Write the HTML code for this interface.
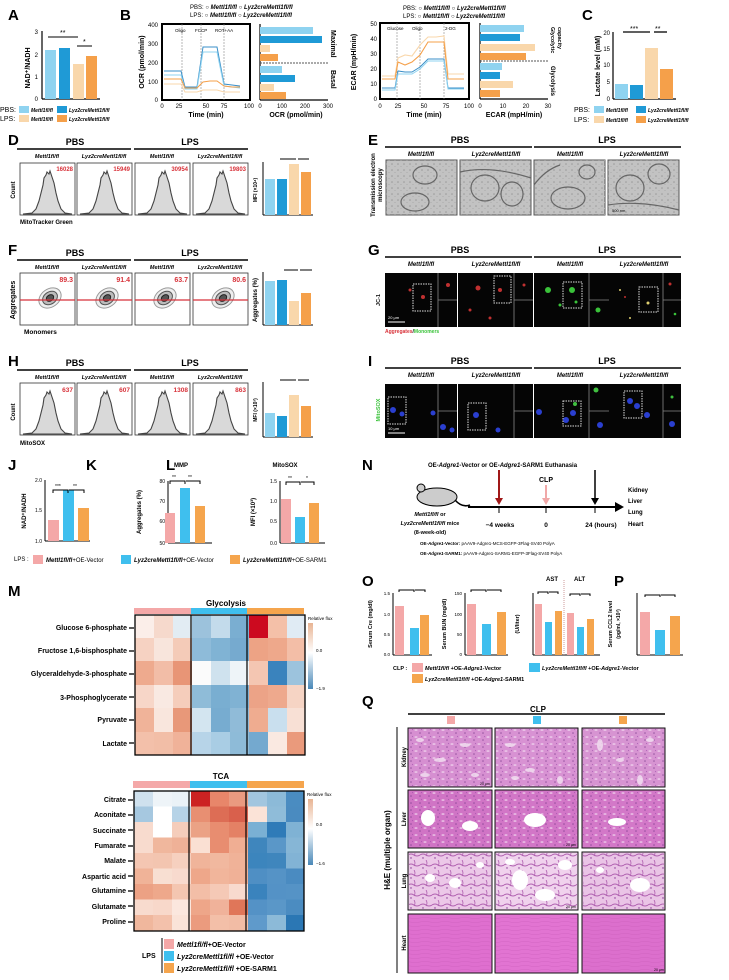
<!DOCTYPE html>
<html><head><meta charset="utf-8"><style>
html,body{margin:0;padding:0;background:#fff}
svg{display:block;font-family:"Liberation Sans",Arial,sans-serif}
.b{font-weight:bold}
.i{font-style:italic;font-weight:bold}
</style></head><body>
<svg width="729" height="980" viewBox="0 0 729 980" xmlns="http://www.w3.org/2000/svg">
<defs>
<pattern id="speck" width="9" height="7" patternUnits="userSpaceOnUse">
<rect width="9" height="7" fill="none"/>
<ellipse cx="2" cy="2" rx="1.6" ry="0.8" fill="#f4def2" opacity="0.8"/>
<circle cx="6" cy="5" r="0.8" fill="#7a3a8a" opacity="0.7"/>
<circle cx="7.5" cy="1.5" r="0.6" fill="#9a4aa8" opacity="0.6"/>
</pattern>
<pattern id="lungp" width="12" height="10" patternUnits="userSpaceOnUse">
<rect width="12" height="10" fill="none"/>
<path d="M0,5 Q3,3 6,5 T12,5" stroke="#b060b0" stroke-width="1" fill="none"/>
<path d="M6,0 Q8,3 6,6" stroke="#b060b0" stroke-width="0.8" fill="none"/>
<circle cx="3" cy="8" r="0.7" fill="#803090"/>
</pattern>
<pattern id="heartp" width="20" height="4" patternUnits="userSpaceOnUse">
<path d="M0,2 Q5,1 10,2 T20,2" stroke="#c85ab8" stroke-width="0.6" fill="none" opacity="0.6"/>
</pattern>
<pattern id="temp" width="6" height="6" patternUnits="userSpaceOnUse">
<circle cx="2" cy="2" r="0.8" fill="#999"/><circle cx="5" cy="4.5" r="0.6" fill="#aaa"/>
</pattern>
</defs>
<!-- Panel letters -->
<g class="b" font-size="15" font-weight="bold">
<text x="8" y="20">A</text><text x="120" y="20">B</text><text x="582" y="20">C</text>
<text x="8" y="145">D</text><text x="368" y="145">E</text>
<text x="8" y="255">F</text><text x="368" y="255">G</text>
<text x="8" y="366">H</text><text x="368" y="366">I</text>
<text x="8" y="470">J</text><text x="86" y="470">K</text><text x="166" y="470">L</text><text x="362" y="470">N</text>
<text x="8" y="596">M</text><text x="362" y="586">O</text><text x="614" y="586">P</text><text x="362" y="706">Q</text>
</g>

<!-- A -->
<g font-size="6">
<line x1="42" y1="31" x2="42" y2="99" stroke="#000" stroke-width="1.2"/><line x1="42" y1="99" x2="100" y2="99" stroke="#000" stroke-width="1.2"/>
<text x="38" y="34" text-anchor="end">3</text><text x="38" y="57" text-anchor="end">2</text><text x="38" y="79" text-anchor="end">1</text><text x="38" y="101" text-anchor="end">0</text>
<text transform="translate(30,68) rotate(-90)" font-size="7" text-anchor="middle" class="b">NAD⁺/NADH</text>
<rect x="45" y="50" width="11" height="49" fill="#8fd3f0"/><rect x="59" y="48" width="11" height="51" fill="#1f9ad6"/>
<rect x="73" y="64" width="11" height="35" fill="#f9d7ab"/><rect x="86" y="56" width="11" height="43" fill="#f5a04a"/>
<line x1="48" y1="37" x2="78" y2="37" stroke="#000"/><text x="60" y="35" font-size="7">**</text>
<line x1="77" y1="46" x2="92" y2="46" stroke="#000"/><text x="83" y="44" font-size="7">*</text>
<text x="0" y="112" font-size="7">PBS:</text><rect x="19" y="106" width="10" height="7" fill="#8fd3f0"/><text x="31" y="112" class="i" font-size="5">Mettl1fl/fl</text>
<rect x="57" y="106" width="10" height="7" fill="#1f9ad6"/><text x="69" y="112" class="i" font-size="5">Lyz2creMettl1fl/fl</text>
<text x="0" y="121" font-size="7">LPS:</text><rect x="19" y="115" width="10" height="7" fill="#f9d7ab"/><text x="31" y="121" class="i" font-size="5">Mettl1fl/fl</text>
<rect x="57" y="115" width="10" height="7" fill="#f5a04a"/><text x="69" y="121" class="i" font-size="5">Lyz2creMettl1fl/fl</text>
</g>

<!-- B OCR -->
<g font-size="6">
<text x="190" y="9" font-size="6">PBS: ○ <tspan class="i">Mettl1fl/fl</tspan> ○ <tspan class="i">Lyz2creMettl1fl/fl</tspan></text>
<text x="190" y="17" font-size="6">LPS: ○ <tspan class="i">Mettl1fl/fl</tspan> ○ <tspan class="i">Lyz2creMettl1fl/fl</tspan></text>
<rect x="162" y="24" width="88" height="76" fill="none" stroke="#000" stroke-width="2"/>
<g font-size="6" text-anchor="end"><text x="158" y="27">400</text><text x="158" y="46">300</text><text x="158" y="65">200</text><text x="158" y="84">100</text><text x="158" y="102">0</text></g>
<g font-size="6" text-anchor="middle"><text x="162" y="108">0</text><text x="179" y="108">25</text><text x="206" y="108">50</text><text x="224" y="108">75</text><text x="249" y="108">100</text></g>
<text x="206" y="117" text-anchor="middle" class="b" font-size="7">Time (min)</text>
<text transform="translate(144,62) rotate(-90)" text-anchor="middle" class="b" font-size="7">OCR (pmol/min)</text>
<g stroke="#888" stroke-dasharray="2,1" stroke-width="0.6"><line x1="182" y1="24" x2="182" y2="100"/><line x1="201" y1="24" x2="201" y2="100"/><line x1="224" y1="24" x2="224" y2="100"/></g>
<text x="175" y="32" font-size="4.5">Oligo</text><text x="195" y="32" font-size="4.5">FCCP</text><text x="215" y="32" font-size="4.5">ROT+AA</text>
<polyline points="164,71 175,71 181,71 185,87 191,87 197,87 203,47 210,47 217,47 224,84 232,85 240,86" fill="none" stroke="#3a8fc8" stroke-width="1"/>
<polyline points="164,75 175,75 181,75 185,89 191,89 197,89 203,52 210,52 217,52 224,86 232,87 240,88" fill="none" stroke="#8fd3f0" stroke-width="1"/>
<polyline points="164,79 175,79 181,79 185,88 191,88 197,88 203,82 210,81 217,81 224,86 232,87 240,87" fill="none" stroke="#f5a04a" stroke-width="1"/>
<polyline points="164,84 175,84 181,84 185,92 191,92 197,92 203,90 210,90 217,90 224,92 232,92 240,92" fill="none" stroke="#f9d7ab" stroke-width="1"/>
<line x1="260" y1="24" x2="260" y2="100" stroke="#000" stroke-width="1.2"/><line x1="260" y1="100" x2="328" y2="100" stroke="#000" stroke-width="1.2"/>
<rect x="260" y="27" width="53" height="7" fill="#8fd3f0"/><rect x="260" y="36" width="62" height="7" fill="#1f9ad6"/>
<rect x="260" y="45" width="10" height="7" fill="#f9d7ab"/><rect x="260" y="54" width="18" height="7" fill="#f5a04a"/>
<line x1="260" y1="63" x2="328" y2="63" stroke="#555" stroke-dasharray="2,1"/>
<rect x="260" y="66" width="22" height="7" fill="#8fd3f0"/><rect x="260" y="75" width="35" height="7" fill="#1f9ad6"/>
<rect x="260" y="84" width="14" height="7" fill="#f9d7ab"/><rect x="260" y="92" width="26" height="7" fill="#f5a04a"/>
<text transform="translate(331,30) rotate(90)" class="b" font-size="7">Maximal</text>
<text transform="translate(331,70) rotate(90)" class="b" font-size="7">Basal</text>
<g text-anchor="middle"><text x="260" y="108">0</text><text x="282" y="108">100</text><text x="305" y="108">200</text><text x="328" y="108">300</text></g>
<text x="296" y="117" text-anchor="middle" class="b" font-size="7">OCR (pmol/min)</text>
</g>

<!-- B ECAR -->
<g font-size="6">
<text x="403" y="10">PBS: ○ <tspan class="i">Mettl1fl/fl</tspan> ○ <tspan class="i">Lyz2creMettl1fl/fl</tspan></text>
<text x="403" y="18">LPS: ○ <tspan class="i">Mettl1fl/fl</tspan> ○ <tspan class="i">Lyz2creMettl1fl/fl</tspan></text>
<rect x="380" y="23" width="89" height="76" fill="none" stroke="#000" stroke-width="2"/>
<g text-anchor="end"><text x="377" y="26">50</text><text x="377" y="41">40</text><text x="377" y="56">30</text><text x="377" y="71">20</text><text x="377" y="86">10</text><text x="377" y="101">0</text></g>
<g text-anchor="middle"><text x="380" y="108">0</text><text x="398" y="108">25</text><text x="424" y="108">50</text><text x="446" y="108">75</text><text x="469" y="108">100</text></g>
<text x="424" y="117" text-anchor="middle" class="b" font-size="7">Time (min)</text>
<text transform="translate(356,62) rotate(-90)" text-anchor="middle" class="b" font-size="7">ECAR (mpH/min)</text>
<g stroke="#888" stroke-dasharray="2,1" stroke-width="0.6"><line x1="397" y1="23" x2="397" y2="99"/><line x1="420" y1="23" x2="420" y2="99"/><line x1="444" y1="23" x2="444" y2="99"/></g>
<text x="387" y="30" font-size="4.5">Glucose</text><text x="412" y="30" font-size="4.5">Oligo</text><text x="445" y="30" font-size="4.5">2-DG</text>
<polyline points="382,76 395,76 398,58 405,55 412,56 420,45 428,37 436,37 444,36 448,74 455,74 464,74" fill="none" stroke="#f9d7ab" stroke-width="1.1"/>
<polyline points="382,79 395,79 398,62 405,65 412,62 420,55 428,42 436,42 444,42 448,79 455,79 464,79" fill="none" stroke="#f5a04a" stroke-width="1.1"/>
<polyline points="382,88 395,88 398,71 405,72 412,72 420,67 428,59 436,59 444,59 448,88 455,88 464,88" fill="none" stroke="#3a8fc8" stroke-width="1"/>
<polyline points="382,90 395,90 398,74 405,74 412,74 420,69 428,61 436,61 444,61 448,89 455,89 464,89" fill="none" stroke="#8fd3f0" stroke-width="1"/>
<line x1="480" y1="23" x2="480" y2="99" stroke="#000" stroke-width="1.2"/><line x1="480" y1="99" x2="548" y2="99" stroke="#000" stroke-width="1.2"/>
<rect x="480" y="25" width="44" height="7" fill="#8fd3f0"/><rect x="480" y="34" width="40" height="7" fill="#1f9ad6"/>
<rect x="480" y="44" width="55" height="7" fill="#f9d7ab"/><rect x="480" y="53" width="46" height="7" fill="#f5a04a"/>
<line x1="480" y1="61" x2="548" y2="61" stroke="#555" stroke-dasharray="2,1"/>
<rect x="480" y="63" width="22" height="7" fill="#8fd3f0"/><rect x="480" y="72" width="20" height="7" fill="#1f9ad6"/>
<rect x="480" y="81" width="33" height="7" fill="#f9d7ab"/><rect x="480" y="90" width="20" height="7" fill="#f5a04a"/>
<text transform="translate(551,27) rotate(90)" class="b" font-size="5.5">Glycolytic</text><text transform="translate(558,27) rotate(90)" class="b" font-size="5.5">capacity</text>
<text transform="translate(551,66) rotate(90)" class="b" font-size="6">Glycolysis</text>
<g text-anchor="middle"><text x="480" y="108">0</text><text x="503" y="108">10</text><text x="526" y="108">20</text><text x="548" y="108">30</text></g>
<text x="514" y="117" text-anchor="middle" class="b" font-size="7">ECAR (mpH/min)</text>
</g>

<!-- C -->
<g font-size="6">
<line x1="613" y1="32" x2="613" y2="99" stroke="#000" stroke-width="1.2"/><line x1="613" y1="99" x2="676" y2="99" stroke="#000" stroke-width="1.2"/>
<g text-anchor="end"><text x="610" y="35">20</text><text x="610" y="51">15</text><text x="610" y="67">10</text><text x="610" y="84">5</text><text x="610" y="101">0</text></g>
<text transform="translate(600,66) rotate(-90)" text-anchor="middle" class="b" font-size="7">Lactate level (mM)</text>
<rect x="615" y="84" width="13" height="15" fill="#8fd3f0"/><rect x="630" y="85" width="13" height="14" fill="#1f9ad6"/>
<rect x="645" y="48" width="13" height="51" fill="#f9d7ab"/><rect x="660" y="69" width="13" height="30" fill="#f5a04a"/>
<line x1="623" y1="32" x2="650" y2="32" stroke="#000" stroke-width="1.3"/><text x="630" y="31" font-size="7">***</text>
<line x1="654" y1="32" x2="667" y2="32" stroke="#000" stroke-width="1.3"/><text x="655" y="31" font-size="7">**</text>
<text x="574" y="112" font-size="7">PBS:</text><rect x="594" y="106" width="10" height="7" fill="#8fd3f0"/><text x="606" y="112" class="i" font-size="5">Mettl1fl/fl</text>
<rect x="636" y="106" width="10" height="7" fill="#1f9ad6"/><text x="648" y="112" class="i" font-size="5">Lyz2creMettl1fl/fl</text>
<text x="574" y="122" font-size="7">LPS:</text><rect x="594" y="116" width="10" height="7" fill="#f9d7ab"/><text x="606" y="122" class="i" font-size="5">Mettl1fl/fl</text>
<rect x="636" y="116" width="10" height="7" fill="#f5a04a"/><text x="648" y="122" class="i" font-size="5">Lyz2creMettl1fl/fl</text>
</g>

<!-- D/F/H flow panels -->
<defs>
<g id="hdrL">
<text x="75" y="0" class="b" font-size="9" text-anchor="middle">PBS</text><text x="190" y="0" class="b" font-size="9" text-anchor="middle">LPS</text>
<line x1="17" y1="4" x2="131" y2="4" stroke="#000" stroke-width="1.5"/><line x1="134" y1="4" x2="248" y2="4" stroke="#000" stroke-width="1.5"/>
<text x="47" y="13" class="i" font-size="5.5" text-anchor="middle">Mettl1fl/fl</text><text x="104" y="13" class="i" font-size="5.5" text-anchor="middle">Lyz2creMettl1fl/fl</text>
<text x="162" y="13" class="i" font-size="5.5" text-anchor="middle">Mettl1fl/fl</text><text x="220" y="13" class="i" font-size="5.5" text-anchor="middle">Lyz2creMettl1fl/fl</text>
</g>
<g id="hdrR">
<text x="460" y="0" class="b" font-size="9" text-anchor="middle">PBS</text><text x="607" y="0" class="b" font-size="9" text-anchor="middle">LPS</text>
<line x1="385" y1="4" x2="532" y2="4" stroke="#000" stroke-width="1.5"/><line x1="534" y1="4" x2="681" y2="4" stroke="#000" stroke-width="1.5"/>
<text x="421" y="13" class="i" font-size="6" text-anchor="middle">Mettl1fl/fl</text><text x="496" y="13" class="i" font-size="6" text-anchor="middle">Lyz2creMettl1fl/fl</text>
<text x="570" y="13" class="i" font-size="6" text-anchor="middle">Mettl1fl/fl</text><text x="644" y="13" class="i" font-size="6" text-anchor="middle">Lyz2creMettl1fl/fl</text>
</g>
<g id="hist"><rect x="0" y="0" width="55" height="52" fill="#fff" stroke="#333" stroke-width="0.8"/>
<path d="M3,51 L12,50 L16,46 L19,38 L21,30 L23,22 L24,15 L26,12 L27,9 L29,11 L30,8 L32,14 L34,20 L36,30 L38,38 L41,46 L45,50 L52,51 Z" fill="#d9d9d9" stroke="#444" stroke-width="1.1"/></g>
<g id="cont"><rect x="0" y="0" width="55" height="52" fill="#fff" stroke="#333" stroke-width="0.8"/>
<ellipse cx="30" cy="25" rx="12" ry="9" fill="#eee" stroke="#999" transform="rotate(-35 30 25)"/>
<ellipse cx="30" cy="25" rx="8" ry="6" fill="#bbb" stroke="#555" transform="rotate(-35 30 25)"/>
<ellipse cx="30" cy="25" rx="4" ry="3" fill="#555" stroke="#222" transform="rotate(-35 30 25)"/>
<line x1="0" y1="27" x2="55" y2="27" stroke="#d8323a" stroke-width="1.2"/></g>
</defs>

<use href="#hdrL" transform="translate(0,145)"/>
<use href="#hist" x="20" y="163"/><use href="#hist" x="77" y="163"/><use href="#hist" x="135" y="163"/><use href="#hist" x="193" y="163"/>
<g fill="#d8323a" font-size="6" class="b" text-anchor="end"><text x="73" y="171">16028</text><text x="130" y="171">15949</text><text x="188" y="171">30954</text><text x="246" y="171">19803</text></g>
<text transform="translate(15,190) rotate(-90)" text-anchor="middle" class="b" font-size="6">Count</text>
<text x="20" y="224" class="b" font-size="6">MitoTracker Green</text>

<use href="#hdrL" transform="translate(0,256)"/>
<use href="#cont" x="20" y="273"/><use href="#cont" x="77" y="273"/><use href="#cont" x="135" y="273"/><use href="#cont" x="193" y="273"/>
<g fill="#d8323a" font-size="7" class="b" text-anchor="end"><text x="73" y="282">89.3</text><text x="130" y="282">91.4</text><text x="188" y="282">63.7</text><text x="246" y="282">80.6</text></g>
<text transform="translate(15,300) rotate(-90)" text-anchor="middle" class="b" font-size="7">Aggregates</text>
<text x="24" y="334" class="b" font-size="6.5">Monomers</text>

<use href="#hdrL" transform="translate(0,366)"/>
<use href="#hist" x="20" y="383"/><use href="#hist" x="77" y="383"/><use href="#hist" x="135" y="383"/><use href="#hist" x="193" y="383"/>
<g fill="#d8323a" font-size="6.5" class="b" text-anchor="end"><text x="73" y="392">637</text><text x="130" y="392">607</text><text x="188" y="392">1308</text><text x="246" y="392">863</text></g>
<text transform="translate(15,412) rotate(-90)" text-anchor="middle" class="b" font-size="6">Count</text>
<text x="20" y="445" class="b" font-size="6">MitoSOX</text>

<!-- small bar charts D F H -->
<g font-size="5">
<line x1="263" y1="162" x2="263" y2="215" stroke="#000"/><line x1="263" y1="215" x2="313" y2="215" stroke="#000"/>
<rect x="265" y="179" width="10" height="36" fill="#8fd3f0"/><rect x="277" y="179" width="10" height="36" fill="#1f9ad6"/><rect x="289" y="164" width="10" height="51" fill="#f9d7ab"/><rect x="301" y="172" width="10" height="43" fill="#f5a04a"/>
<text transform="translate(257,190) rotate(-90)" text-anchor="middle" class="b">MFI (×10⁴)</text>
<line x1="280" y1="159" x2="296" y2="159" stroke="#000"/><line x1="298" y1="159" x2="309" y2="159" stroke="#000"/>
<line x1="263" y1="272" x2="263" y2="325" stroke="#000"/><line x1="263" y1="325" x2="313" y2="325" stroke="#000"/>
<rect x="265" y="281" width="10" height="44" fill="#8fd3f0"/><rect x="277" y="280" width="10" height="45" fill="#1f9ad6"/><rect x="289" y="301" width="10" height="24" fill="#f9d7ab"/><rect x="301" y="293" width="10" height="32" fill="#f5a04a"/>
<text transform="translate(257,300) rotate(-90)" text-anchor="middle" class="b" font-size="6">Aggregates (%)</text>
<line x1="284" y1="270" x2="298" y2="270" stroke="#000"/><line x1="300" y1="270" x2="312" y2="270" stroke="#000"/>
<line x1="263" y1="382" x2="263" y2="437" stroke="#000"/><line x1="263" y1="437" x2="313" y2="437" stroke="#000"/>
<rect x="265" y="413" width="10" height="24" fill="#8fd3f0"/><rect x="277" y="416" width="10" height="21" fill="#1f9ad6"/><rect x="289" y="395" width="10" height="42" fill="#f9d7ab"/><rect x="301" y="406" width="10" height="31" fill="#f5a04a"/>
<text transform="translate(257,410) rotate(-90)" text-anchor="middle" class="b">MFI (×10³)</text>
<line x1="280" y1="380" x2="296" y2="380" stroke="#000"/><line x1="298" y1="380" x2="309" y2="380" stroke="#000"/>
</g>

<!-- E TEM -->
<use href="#hdrR" transform="translate(0,143)"/>
<text transform="translate(375,185) rotate(-90)" text-anchor="middle" class="b" font-size="6">Transmission electron</text>
<text transform="translate(382,185) rotate(-90)" text-anchor="middle" class="b" font-size="6">microscopy</text>
<g stroke="#555" stroke-width="1" fill="#c2c2c2">
<rect x="386" y="160" width="71" height="55"/><rect x="460" y="160" width="71" height="55"/><rect x="534" y="160" width="71" height="55"/><rect x="608" y="160" width="71" height="55"/>
</g>
<g fill="url(#temp)"><rect x="386" y="160" width="71" height="55"/><rect x="460" y="160" width="71" height="55"/><rect x="534" y="160" width="71" height="55"/><rect x="608" y="160" width="71" height="55"/></g>
<g fill="none" stroke="#666" stroke-width="1.2">
<ellipse cx="425" cy="175" rx="12" ry="9"/><ellipse cx="415" cy="202" rx="14" ry="9"/><ellipse cx="485" cy="188" rx="14" ry="13"/><ellipse cx="512" cy="194" rx="11" ry="12"/>
<ellipse cx="568" cy="198" rx="17" ry="11"/><ellipse cx="587" cy="172" rx="8" ry="7"/><ellipse cx="630" cy="188" rx="14" ry="13"/><ellipse cx="659" cy="174" rx="11" ry="10"/>
<path d="M460,172 Q490,165 531,178"/><path d="M534,185 Q545,170 560,165"/><path d="M608,205 Q640,200 679,210"/>
</g>
<text x="612" y="212" font-size="4">500 nm</text>

<!-- G JC-1 -->
<use href="#hdrR" transform="translate(0,253)"/>
<g fill="#050505"><rect x="385" y="273" width="72" height="54"/><rect x="458" y="273" width="75" height="54"/><rect x="534" y="273" width="75" height="54"/><rect x="609" y="273" width="72" height="54"/></g>
<g stroke="#888" stroke-width="0.8"><line x1="438" y1="273" x2="438" y2="327"/><line x1="438" y1="300" x2="457" y2="300"/><line x1="514" y1="273" x2="514" y2="327"/><line x1="514" y1="300" x2="533" y2="300"/><line x1="589" y1="273" x2="589" y2="327"/><line x1="589" y1="300" x2="609" y2="300"/><line x1="663" y1="273" x2="663" y2="327"/><line x1="663" y1="300" x2="681" y2="300"/></g>
<g fill="none" stroke="#ddd" stroke-dasharray="1.5,1"><rect x="413" y="284" width="18" height="27"/><rect x="494" y="276" width="17" height="27"/><rect x="563" y="282" width="19" height="26"/><rect x="639" y="287" width="19" height="25"/></g>
<g fill="#c03030"><circle cx="410" cy="290" r="1.5"/><circle cx="423" cy="297" r="2"/><circle cx="448" cy="285" r="2"/><circle cx="478" cy="288" r="2.5"/><circle cx="500" cy="290" r="2"/><circle cx="470" cy="310" r="1.5"/><circle cx="490" cy="318" r="1.5"/><circle cx="524" cy="285" r="1.5"/><circle cx="670" cy="284" r="1.5"/><circle cx="625" cy="297" r="1"/></g>
<g fill="#3ac23a"><circle cx="548" cy="290" r="3"/><circle cx="572" cy="290" r="3"/><circle cx="560" cy="305" r="1.5"/><circle cx="598" cy="310" r="2.5"/><circle cx="576" cy="302" r="1.5"/><circle cx="675" cy="314" r="1.3"/></g>
<g fill="#e0d070"><circle cx="648" cy="303" r="1.5"/><circle cx="620" cy="290" r="1"/><circle cx="630" cy="318" r="1"/></g>
<text transform="translate(380,300) rotate(-90)" text-anchor="middle" font-size="5.5" class="b">JC-1</text>
<line x1="388" y1="322" x2="405" y2="322" stroke="#fff"/><text x="388" y="319" fill="#fff" font-size="4">20 μm</text>
<text x="385" y="333" font-size="5" class="b"><tspan fill="#d8323a">Aggregates</tspan>/<tspan fill="#3ac23a">Monomers</tspan></text>

<!-- I MitoSOX -->
<use href="#hdrR" transform="translate(0,364)"/>
<g fill="#050505"><rect x="385" y="384" width="72" height="54"/><rect x="458" y="384" width="75" height="54"/><rect x="534" y="384" width="75" height="54"/><rect x="609" y="384" width="72" height="54"/></g>
<g stroke="#888" stroke-width="0.8"><line x1="438" y1="384" x2="438" y2="438"/><line x1="438" y1="411" x2="457" y2="411"/><line x1="514" y1="384" x2="514" y2="438"/><line x1="514" y1="411" x2="533" y2="411"/><line x1="589" y1="384" x2="589" y2="438"/><line x1="589" y1="411" x2="609" y2="411"/><line x1="663" y1="384" x2="663" y2="438"/><line x1="663" y1="411" x2="681" y2="411"/></g>
<g fill="none" stroke="#ddd" stroke-dasharray="1.5,1"><rect x="388" y="397" width="18" height="27"/><rect x="468" y="403" width="18" height="27"/><rect x="563" y="401" width="18" height="25"/><rect x="624" y="391" width="18" height="27"/></g>
<g fill="#2a3fd0"><circle cx="393" cy="410" r="3"/><circle cx="402" cy="414" r="2.5"/><circle cx="433" cy="413" r="2.5"/><circle cx="443" cy="427" r="3"/><circle cx="452" cy="430" r="2.5"/><circle cx="476" cy="415" r="3"/><circle cx="498" cy="430" r="2.5"/><circle cx="539" cy="412" r="3"/><circle cx="566" cy="420" r="3"/><circle cx="573" cy="413" r="3"/><circle cx="600" cy="425" r="3"/><circle cx="630" cy="401" r="3"/><circle cx="637" cy="406" r="3"/><circle cx="647" cy="415" r="3"/><circle cx="672" cy="424" r="3"/></g>
<g fill="#40c040"><circle cx="575" cy="404" r="2"/><circle cx="596" cy="390" r="2.5"/><circle cx="672" cy="397" r="1.5"/></g>
<text transform="translate(380,410) rotate(-90)" text-anchor="middle" font-size="5.5" class="b" fill="#3ac23a">MitoSOX</text>
<line x1="388" y1="433" x2="405" y2="433" stroke="#fff"/><text x="388" y="430" fill="#fff" font-size="4">10 μm</text>

<!-- J K L -->
<g font-size="5">
<line x1="45" y1="480" x2="45" y2="541" stroke="#000"/><line x1="45" y1="541" x2="90" y2="541" stroke="#000"/>
<text x="42" y="482" text-anchor="end">2.0</text><text x="42" y="512" text-anchor="end">1.5</text><text x="42" y="543" text-anchor="end">1.0</text>
<text transform="translate(26,511) rotate(-90)" text-anchor="middle" class="b" font-size="6">NAD⁺/NADH</text>
<rect x="48" y="520" width="11" height="21" fill="#f4a8a8"/><rect x="63" y="490" width="11" height="51" fill="#3fbfee"/><rect x="78" y="508" width="11" height="33" fill="#f5a54d"/>
<path d="M53,493 V490 H68 V493 M69,490 H84 V493" fill="none" stroke="#000"/><text x="55" y="488">***</text><text x="73" y="488">**</text>

<text x="181" y="467" class="b" font-size="6" text-anchor="middle">MMP</text>
<line x1="168" y1="481" x2="168" y2="543" stroke="#000"/><line x1="168" y1="543" x2="212" y2="543" stroke="#000"/>
<text x="165" y="483" text-anchor="end">80</text><text x="165" y="503" text-anchor="end">70</text><text x="165" y="523" text-anchor="end">60</text><text x="165" y="545" text-anchor="end">50</text>
<text transform="translate(141,512) rotate(-90)" text-anchor="middle" class="b" font-size="6">Aggregates (%)</text>
<rect x="165" y="513" width="10" height="30" fill="#f4a8a8"/><rect x="180" y="488" width="10" height="55" fill="#3fbfee"/><rect x="195" y="506" width="10" height="37" fill="#f5a54d"/>
<path d="M170,484 V481 H185 V484 M186,481 H200 V484" fill="none" stroke="#000"/><text x="172" y="479">**</text><text x="188" y="479">**</text>

<text x="285" y="467" class="b" font-size="6" text-anchor="middle">MitoSOX</text>
<line x1="280" y1="481" x2="280" y2="543" stroke="#000"/><line x1="280" y1="543" x2="325" y2="543" stroke="#000"/>
<text x="277" y="483" text-anchor="end">1.5</text><text x="277" y="503" text-anchor="end">1.0</text><text x="277" y="523" text-anchor="end">0.5</text><text x="277" y="545" text-anchor="end">0.0</text>
<text transform="translate(255,512) rotate(-90)" text-anchor="middle" class="b" font-size="6">MFI (×10³)</text>
<rect x="281" y="499" width="10" height="44" fill="#f4a8a8"/><rect x="295" y="517" width="10" height="26" fill="#3fbfee"/><rect x="309" y="503" width="10" height="40" fill="#f5a54d"/>
<path d="M286,485 V482 H300 V485 M301,482 H314 V485" fill="none" stroke="#000"/><text x="288" y="480">**</text><text x="306" y="480">*</text>

<text x="14" y="561" font-size="6">LPS :</text>
<rect x="33" y="555" width="10" height="9" fill="#f4a8a8"/><text x="46" y="562" font-size="6"><tspan class="i">Mettl1fl/fl</tspan>+OE-Vector</text>
<rect x="121" y="555" width="10" height="9" fill="#3fbfee"/><text x="134" y="562" font-size="6"><tspan class="i">Lyz2creMettl1fl/fl</tspan>+OE-Vector</text>
<rect x="230" y="555" width="10" height="9" fill="#f5a54d"/><text x="243" y="562" font-size="6"><tspan class="i">Lyz2creMettl1fl/fl</tspan>+OE-SARM1</text>
</g>

<!-- N -->
<g font-size="6">
<text x="428" y="467" class="b">OE-<tspan font-style="italic">Adgre1</tspan>-Vector or OE-<tspan font-style="italic">Adgre1</tspan>-SARM1  Euthanasia</text>
<ellipse cx="437" cy="497" rx="20" ry="9" fill="#ccc" stroke="#000"/><circle cx="421" cy="488" r="4" fill="#ccc" stroke="#000"/>
<path d="M455,500 Q462,508 470,505" fill="none" stroke="#000" stroke-width="1.5"/>
<line x1="468" y1="507" x2="617" y2="507" stroke="#000" stroke-width="2"/><path d="M615,502 L624,507 L615,512 Z" fill="#000"/>
<line x1="499" y1="470" x2="499" y2="500" stroke="#a01818" stroke-width="2"/><path d="M495,498 L499,505 L503,498 Z" fill="#a01818"/>
<line x1="546" y1="485" x2="546" y2="500" stroke="#f0a8a8" stroke-width="2"/><path d="M542,498 L546,505 L550,498 Z" fill="#f0a8a8"/>
<line x1="595" y1="470" x2="595" y2="500" stroke="#000" stroke-width="1.5"/><path d="M591,498 L595,505 L599,498 Z" fill="#000"/>
<line x1="499" y1="507" x2="499" y2="513" stroke="#000"/><line x1="546" y1="507" x2="546" y2="513" stroke="#000"/><line x1="595" y1="507" x2="595" y2="513" stroke="#000"/>
<text x="546" y="482" class="b" font-size="7" text-anchor="middle">CLP</text>
<g class="b" font-size="6.5" text-anchor="middle"><text x="500" y="527">−4 weeks</text><text x="546" y="527">0</text><text x="601" y="527">24 (hours)</text></g>
<g class="b" font-size="6"><text x="628" y="492">Kidney</text><text x="628" y="503">Liver</text><text x="628" y="514">Lung</text><text x="628" y="526">Heart</text></g>
<g class="b" font-size="5.5" text-anchor="middle"><text x="430" y="516" font-style="italic">Mettl1fl/fl <tspan font-style="normal">or</tspan></text><text x="430" y="525"><tspan font-style="italic">Lyz2creMettl1fl/fl</tspan> mice</text><text x="430" y="534">(8-week-old)</text></g>
<text x="420" y="545" font-size="4.5"><tspan class="b">OE-<tspan font-style="italic">Adgre1</tspan>-Vector:</tspan> pAAV9-Adgre1-MCS-EGFP-3Flag-SV40 PolyA</text>
<text x="420" y="555" font-size="4.5"><tspan class="b">OE-<tspan font-style="italic">Adgre1</tspan>-SARM1:</tspan> pAAV9-Adgre1-SARM1-EGFP-3Flag-SV40 PolyA</text>
</g>

<!-- O P -->
<g font-size="4.5">
<line x1="393" y1="593" x2="393" y2="655" stroke="#000"/><line x1="393" y1="655" x2="432" y2="655" stroke="#000"/>
<text transform="translate(372,624) rotate(-90)" text-anchor="middle" class="b" font-size="5.5">Serum Cre (mg/dl)</text>
<text x="390" y="595" text-anchor="end">1.5</text><text x="390" y="616" text-anchor="end">1.0</text><text x="390" y="636" text-anchor="end">0.5</text><text x="390" y="656" text-anchor="end">0.0</text>
<rect x="395" y="606" width="9" height="49" fill="#f4a8a8"/><rect x="410" y="628" width="9" height="27" fill="#3fbfee"/><rect x="420" y="615" width="9" height="40" fill="#f5a54d"/>
<path d="M399,592 V590 H414 V592 M415,590 H425 V592" fill="none" stroke="#000"/>
<line x1="465" y1="593" x2="465" y2="655" stroke="#000"/><line x1="465" y1="655" x2="508" y2="655" stroke="#000"/>
<text transform="translate(446,624) rotate(-90)" text-anchor="middle" class="b" font-size="5.5">Serum BUN (mg/dl)</text>
<text x="462" y="595" text-anchor="end">150</text><text x="462" y="616" text-anchor="end">100</text><text x="462" y="636" text-anchor="end">50</text><text x="462" y="656" text-anchor="end">0</text>
<rect x="467" y="604" width="9" height="51" fill="#f4a8a8"/><rect x="482" y="624" width="9" height="31" fill="#3fbfee"/><rect x="497" y="612" width="9" height="43" fill="#f5a54d"/>
<path d="M471,592 V590 H486 V592 M487,590 H501 V592" fill="none" stroke="#000"/>
<text x="546" y="581" class="b" font-size="6">AST</text><text x="574" y="581" class="b" font-size="6">ALT</text>
<line x1="533" y1="593" x2="533" y2="655" stroke="#000"/><line x1="533" y1="655" x2="600" y2="655" stroke="#000"/>
<text transform="translate(519,624) rotate(-90)" text-anchor="middle" class="b" font-size="5.5">(U/liter)</text>
<line x1="564" y1="580" x2="564" y2="655" stroke="#c99" stroke-dasharray="1,1"/>
<rect x="535" y="604" width="7" height="51" fill="#f4a8a8"/><rect x="545" y="622" width="7" height="33" fill="#3fbfee"/><rect x="555" y="611" width="7" height="44" fill="#f5a54d"/>
<rect x="567" y="613" width="7" height="42" fill="#f4a8a8"/><rect x="577" y="627" width="7" height="28" fill="#3fbfee"/><rect x="587" y="619" width="7" height="36" fill="#f5a54d"/>
<path d="M538,594 V592 H548 V594 M549,592 H558 V594 M570,596 V594 H580 V596 M581,594 H590 V596" fill="none" stroke="#000"/>
<line x1="637" y1="593" x2="637" y2="655" stroke="#000"/><line x1="637" y1="655" x2="683" y2="655" stroke="#000"/>
<text transform="translate(612,624) rotate(-90)" text-anchor="middle" class="b" font-size="5.5">Serum CCL2 level</text>
<text transform="translate(620,624) rotate(-90)" text-anchor="middle" class="b" font-size="5">(pg/ml, ×10²)</text>
<rect x="640" y="612" width="10" height="43" fill="#f4a8a8"/><rect x="655" y="630" width="10" height="25" fill="#3fbfee"/><rect x="670" y="616" width="10" height="39" fill="#f5a54d"/>
<path d="M645,597 V595 H660 V597 M661,595 H675 V597" fill="none" stroke="#000"/>
<text x="393" y="670" font-size="5.5" class="b">CLP :</text>
<rect x="412" y="663" width="11" height="9" fill="#f4a8a8"/><text x="425" y="670" font-size="5.5" class="b"><tspan font-style="italic">Mettl1fl/fl</tspan> +OE-<tspan font-style="italic">Adgre1</tspan>-Vector</text>
<rect x="529" y="663" width="11" height="9" fill="#3fbfee"/><text x="542" y="670" font-size="5.5" class="b"><tspan font-style="italic">Lyz2creMettl1fl/fl</tspan> +OE-<tspan font-style="italic">Adgre1</tspan>-Vector</text>
<rect x="412" y="674" width="11" height="9" fill="#f5a54d"/><text x="425" y="681" font-size="5.5" class="b"><tspan font-style="italic">Lyz2creMettl1fl/fl</tspan> +OE-<tspan font-style="italic">Adgre1</tspan>-SARM1</text>
</g>

<!-- Q -->
<text x="538" y="712" class="b" font-size="8" text-anchor="middle">CLP</text>
<line x1="408" y1="714" x2="665" y2="714" stroke="#000" stroke-width="1.5"/>
<rect x="447" y="716" width="8" height="8" fill="#f4a8a8"/><rect x="533" y="716" width="8" height="8" fill="#3fbfee"/><rect x="619" y="716" width="8" height="8" fill="#f5a54d"/>
<line x1="397" y1="727" x2="397" y2="973" stroke="#000"/>
<text transform="translate(390,850) rotate(-90)" text-anchor="middle" font-size="8" class="b">H&amp;E (multiple organ)</text>
<g font-size="6" class="b"><text transform="translate(406,757) rotate(-90)" text-anchor="middle">Kidney</text><text transform="translate(406,819) rotate(-90)" text-anchor="middle">Liver</text><text transform="translate(406,881) rotate(-90)" text-anchor="middle">Lung</text><text transform="translate(406,943) rotate(-90)" text-anchor="middle">Heart</text></g>
<g stroke="#111" stroke-width="1">
<rect x="408" y="728" width="84" height="59" fill="#d68fd1"/><rect x="495" y="728" width="83" height="59" fill="#d892d3"/><rect x="582" y="728" width="83" height="59" fill="#d794d2"/>
<rect x="408" y="790" width="84" height="58" fill="#d074c5"/><rect x="495" y="790" width="83" height="58" fill="#d276c7"/><rect x="582" y="790" width="83" height="58" fill="#d378c8"/>
<rect x="408" y="852" width="84" height="58" fill="#ecc8e8"/><rect x="495" y="852" width="83" height="58" fill="#f0d2ed"/><rect x="582" y="852" width="83" height="58" fill="#eac4e6"/>
<rect x="408" y="914" width="84" height="59" fill="#df6fcf"/><rect x="495" y="914" width="83" height="59" fill="#e274d2"/><rect x="582" y="914" width="83" height="59" fill="#dc6fcd"/>
</g>
<g fill="url(#speck)">
<rect x="409" y="729" width="82" height="57"/><rect x="496" y="729" width="81" height="57"/><rect x="583" y="729" width="81" height="57"/>
<rect x="409" y="791" width="82" height="56"/><rect x="496" y="791" width="81" height="56"/><rect x="583" y="791" width="81" height="56"/>
</g>
<g fill="url(#lungp)"><rect x="409" y="853" width="82" height="56"/><rect x="496" y="853" width="81" height="56"/><rect x="583" y="853" width="81" height="56"/></g>
<g fill="url(#heartp)"><rect x="409" y="915" width="82" height="57"/><rect x="496" y="915" width="81" height="57"/><rect x="583" y="915" width="81" height="57"/></g>
<g fill="#f3e3f2" opacity="0.8">
<ellipse cx="420" cy="740" rx="4" ry="2"/><ellipse cx="440" cy="760" rx="6" ry="2"/><ellipse cx="465" cy="745" rx="5" ry="2"/><ellipse cx="475" cy="775" rx="4" ry="2"/><ellipse cx="425" cy="775" rx="5" ry="2"/>
<ellipse cx="510" cy="745" rx="5" ry="2"/><ellipse cx="530" cy="770" rx="5" ry="2"/><ellipse cx="560" cy="780" rx="3" ry="4"/><ellipse cx="515" cy="778" rx="4" ry="2"/>
<ellipse cx="600" cy="745" rx="3" ry="6"/><ellipse cx="620" cy="760" rx="4" ry="2"/><ellipse cx="640" cy="780" rx="3" ry="5"/><ellipse cx="650" cy="740" rx="4" ry="2"/>
</g>
<g fill="#fff"><ellipse cx="428" cy="818" rx="7" ry="8"/><ellipse cx="470" cy="826" rx="8" ry="5"/><ellipse cx="535" cy="820" rx="11" ry="7"/><ellipse cx="617" cy="822" rx="9" ry="4"/>
<ellipse cx="430" cy="878" rx="5" ry="4"/><ellipse cx="455" cy="883" rx="6" ry="5"/><ellipse cx="480" cy="865" rx="4" ry="3"/><ellipse cx="520" cy="880" rx="8" ry="10"/><ellipse cx="545" cy="895" rx="10" ry="6"/><ellipse cx="565" cy="865" rx="7" ry="5"/><ellipse cx="510" cy="862" rx="5" ry="3"/><ellipse cx="640" cy="885" rx="10" ry="7"/><ellipse cx="600" cy="870" rx="4" ry="3"/></g>
<g font-size="3.5"><text x="480" y="785">20 μm</text><text x="566" y="846">20 μm</text><text x="566" y="908">20 μm</text><text x="654" y="971">20 μm</text></g>

<!-- M heatmaps -->
<defs><linearGradient id="cb" x1="0" y1="0" x2="0" y2="1"><stop offset="0" stop-color="#e8b493"/><stop offset="0.45" stop-color="#fff"/><stop offset="1" stop-color="#4a88b8"/></linearGradient></defs>
<text x="226" y="606" class="b" font-size="8" text-anchor="middle">Glycolysis</text>
<rect x="134" y="608" width="57" height="6" fill="#f4a8a8"/><rect x="191" y="608" width="56" height="6" fill="#3fbfee"/><rect x="247" y="608" width="57" height="6" fill="#f5a54d"/>
<g transform="translate(135,615)">
<g><rect x="0" width="19" height="24" fill="#fbeee9"/><rect x="19" width="19" height="24" fill="#f6d9cc"/><rect x="38" width="19" height="24" fill="#e2ecf3"/><rect x="57" width="19" height="24" fill="#9cc2dc"/><rect x="76" width="19" height="24" fill="#c3dbeb"/><rect x="95" width="19" height="24" fill="#7aaed1"/><rect x="114" width="19" height="24" fill="#cc0a1f"/><rect x="133" width="19" height="24" fill="#f4c0a8"/><rect x="152" width="18" height="24" fill="#e0ebf4"/></g>
<g transform="translate(0,23)"><rect x="0" width="19" height="24" fill="#f6d2c2"/><rect x="19" width="19" height="24" fill="#f8e5dc"/><rect x="38" width="19" height="24" fill="#f4cbb8"/><rect x="57" width="19" height="24" fill="#8ebbd9"/><rect x="76" width="19" height="24" fill="#80b3d4"/><rect x="95" width="19" height="24" fill="#76aacf"/><rect x="114" width="19" height="24" fill="#eda385"/><rect x="133" width="19" height="24" fill="#eea88b"/><rect x="152" width="18" height="24" fill="#f3bea7"/></g>
<g transform="translate(0,46)"><rect x="0" width="19" height="24" fill="#eeaa8e"/><rect x="19" width="19" height="24" fill="#f2bda7"/><rect x="38" width="19" height="24" fill="#e89576"/><rect x="57" width="19" height="24" fill="#fbfbfb"/><rect x="76" width="19" height="24" fill="#cfe2ee"/><rect x="95" width="19" height="24" fill="#eef4f8"/><rect x="114" width="19" height="24" fill="#f4c6b2"/><rect x="133" width="19" height="24" fill="#3a83bd"/><rect x="152" width="18" height="24" fill="#9cc3dd"/></g>
<g transform="translate(0,70)"><rect x="0" width="19" height="24" fill="#f7d6c8"/><rect x="19" width="19" height="24" fill="#f9e9e2"/><rect x="38" width="19" height="24" fill="#f5cdbb"/><rect x="57" width="19" height="24" fill="#8fbcd8"/><rect x="76" width="19" height="24" fill="#79aed1"/><rect x="95" width="19" height="24" fill="#80b2d3"/><rect x="114" width="19" height="24" fill="#eca387"/><rect x="133" width="19" height="24" fill="#eea98d"/><rect x="152" width="18" height="24" fill="#f6d4c4"/></g>
<g transform="translate(0,93)"><rect x="0" width="19" height="24" fill="#f0b399"/><rect x="19" width="19" height="24" fill="#f9e6dd"/><rect x="38" width="19" height="24" fill="#e89879"/><rect x="57" width="19" height="24" fill="#d3e5f0"/><rect x="76" width="19" height="24" fill="#77acd0"/><rect x="95" width="19" height="24" fill="#90bbd8"/><rect x="114" width="19" height="24" fill="#efac90"/><rect x="133" width="19" height="24" fill="#c9dfee"/><rect x="152" width="18" height="24" fill="#f8e0d5"/></g>
<g transform="translate(0,117)"><rect x="0" width="19" height="23" fill="#f3c0aa"/><rect x="19" width="19" height="23" fill="#f2bea7"/><rect x="38" width="19" height="23" fill="#f0b299"/><rect x="57" width="19" height="23" fill="#b7d4e8"/><rect x="76" width="19" height="23" fill="#a9cde4"/><rect x="95" width="19" height="23" fill="#8ebbd8"/><rect x="114" width="19" height="23" fill="#74a9cf"/><rect x="133" width="19" height="23" fill="#fae9e1"/><rect x="152" width="18" height="23" fill="#ea9a7c"/></g>
<rect x="0" y="0" width="170" height="140" fill="none" stroke="#000" stroke-width="1.3"/><line x1="56" y1="0" x2="56" y2="140" stroke="#000" stroke-width="1.2"/><line x1="112" y1="0" x2="112" y2="140" stroke="#000" stroke-width="1.2"/>
</g>
<g class="b" font-size="7" text-anchor="end"><text x="127" y="630">Glucose 6-phosphate</text><text x="127" y="653">Fructose 1,6-bisphosphate</text><text x="127" y="676">Glyceraldehyde-3-phosphate</text><text x="127" y="700">3-Phosphoglycerate</text><text x="127" y="722">Pyruvate</text><text x="127" y="746">Lactate</text></g>
<g stroke="#000" stroke-width="1.3"><line x1="129" y1="628" x2="134" y2="628"/><line x1="129" y1="651" x2="134" y2="651"/><line x1="129" y1="674" x2="134" y2="674"/><line x1="129" y1="697" x2="134" y2="697"/><line x1="129" y1="720" x2="134" y2="720"/><line x1="129" y1="743" x2="134" y2="743"/></g>
<rect x="308" y="623" width="5" height="66" fill="url(#cb)"/><text x="308" y="620" font-size="4.5">Relative flux</text><text x="316" y="652" font-size="4.5">0.0</text><text x="316" y="690" font-size="4.5">−1.9</text>

<text x="221" y="779" class="b" font-size="8" text-anchor="middle">TCA</text>
<rect x="133" y="781" width="57" height="7" fill="#f4a8a8"/><rect x="190" y="781" width="57" height="7" fill="#3fbfee"/><rect x="247" y="781" width="57" height="7" fill="#f5a54d"/>
<g transform="translate(134,791)">
<g><rect x="0" width="19" height="16" fill="#cfe1ee"/><rect x="19" width="19" height="16" fill="#eef4f8"/><rect x="38" width="19" height="16" fill="#eaf2f7"/><rect x="57" width="19" height="16" fill="#cc2222"/><rect x="76" width="19" height="16" fill="#e8866a"/><rect x="95" width="19" height="16" fill="#ea9a80"/><rect x="114" width="19" height="16" fill="#a2c6df"/><rect x="133" width="19" height="16" fill="#8cbad8"/><rect x="152" width="18" height="16" fill="#4a8cc1"/></g>
<g transform="translate(0,15.5)"><rect x="0" width="19" height="16" fill="#a6c8e0"/><rect x="19" width="19" height="16" fill="#ffffff"/><rect x="38" width="19" height="16" fill="#b6d3e7"/><rect x="57" width="19" height="16" fill="#e88f72"/><rect x="76" width="19" height="16" fill="#dd6d55"/><rect x="95" width="19" height="16" fill="#d9604c"/><rect x="114" width="19" height="16" fill="#fbe3d7"/><rect x="133" width="19" height="16" fill="#8fbcd9"/><rect x="152" width="18" height="16" fill="#4a8bc0"/></g>
<g transform="translate(0,31)"><rect x="0" width="19" height="16" fill="#f8dbce"/><rect x="19" width="19" height="16" fill="#ffffff"/><rect x="38" width="19" height="16" fill="#f5cdbb"/><rect x="57" width="19" height="16" fill="#eba285"/><rect x="76" width="19" height="16" fill="#e88d70"/><rect x="95" width="19" height="16" fill="#e48165"/><rect x="114" width="19" height="16" fill="#7ab0d4"/><rect x="133" width="19" height="16" fill="#2f7bb8"/><rect x="152" width="18" height="16" fill="#7fb2d4"/></g>
<g transform="translate(0,46.5)"><rect x="0" width="19" height="16" fill="#f8dbce"/><rect x="19" width="19" height="16" fill="#f0b79d"/><rect x="38" width="19" height="16" fill="#efb197"/><rect x="57" width="19" height="16" fill="#fae0d3"/><rect x="76" width="19" height="16" fill="#e88d70"/><rect x="95" width="19" height="16" fill="#f0ae93"/><rect x="114" width="19" height="16" fill="#3f86bd"/><rect x="133" width="19" height="16" fill="#5a97c8"/><rect x="152" width="18" height="16" fill="#86b6d6"/></g>
<g transform="translate(0,62)"><rect x="0" width="19" height="16" fill="#f4c6b2"/><rect x="19" width="19" height="16" fill="#f3c5b0"/><rect x="38" width="19" height="16" fill="#f6d0bf"/><rect x="57" width="19" height="16" fill="#f0b49a"/><rect x="76" width="19" height="16" fill="#f1b89f"/><rect x="95" width="19" height="16" fill="#f0b298"/><rect x="114" width="19" height="16" fill="#3c85bd"/><rect x="133" width="19" height="16" fill="#3f86bd"/><rect x="152" width="18" height="16" fill="#82b3d5"/></g>
<g transform="translate(0,77.5)"><rect x="0" width="19" height="16" fill="#f0b398"/><rect x="19" width="19" height="16" fill="#f8dfd2"/><rect x="38" width="19" height="16" fill="#f8dace"/><rect x="57" width="19" height="16" fill="#eea78a"/><rect x="76" width="19" height="16" fill="#f1b59b"/><rect x="95" width="19" height="16" fill="#f0b197"/><rect x="114" width="19" height="16" fill="#4f8fc4"/><rect x="133" width="19" height="16" fill="#5593c6"/><rect x="152" width="18" height="16" fill="#4a8bc1"/></g>
<g transform="translate(0,93)"><rect x="0" width="19" height="16" fill="#eca184"/><rect x="19" width="19" height="16" fill="#eea88b"/><rect x="38" width="19" height="16" fill="#f4c6b1"/><rect x="57" width="19" height="16" fill="#f3bea7"/><rect x="76" width="19" height="16" fill="#f5c9b6"/><rect x="95" width="19" height="16" fill="#f8dace"/><rect x="114" width="19" height="16" fill="#3a83bd"/><rect x="133" width="19" height="16" fill="#5492c6"/><rect x="152" width="18" height="16" fill="#5593c6"/></g>
<g transform="translate(0,108.5)"><rect x="0" width="19" height="16" fill="#f8dbce"/><rect x="19" width="19" height="16" fill="#f8d8ca"/><rect x="38" width="19" height="16" fill="#fbe7de"/><rect x="57" width="19" height="16" fill="#eea689"/><rect x="76" width="19" height="16" fill="#f0b29a"/><rect x="95" width="19" height="16" fill="#e07659"/><rect x="114" width="19" height="16" fill="#5492c6"/><rect x="133" width="19" height="16" fill="#5a97c8"/><rect x="152" width="18" height="16" fill="#4b8cc1"/></g>
<g transform="translate(0,124)"><rect x="0" width="19" height="16" fill="#f0b79d"/><rect x="19" width="19" height="16" fill="#f3c1ab"/><rect x="38" width="19" height="16" fill="#fae3d8"/><rect x="57" width="19" height="16" fill="#eb9b7e"/><rect x="76" width="19" height="16" fill="#f3bfa8"/><rect x="95" width="19" height="16" fill="#f2bca5"/><rect x="114" width="19" height="16" fill="#5f9acb"/><rect x="133" width="19" height="16" fill="#8cbad8"/><rect x="152" width="18" height="16" fill="#2b77b4"/></g>
<rect x="0" y="0" width="170" height="140" fill="none" stroke="#000" stroke-width="1.3"/><line x1="55" y1="0" x2="55" y2="140" stroke="#000" stroke-width="1.2"/><line x1="112" y1="0" x2="112" y2="140" stroke="#000" stroke-width="1.2"/>
</g>
<g class="b" font-size="7" text-anchor="end"><text x="126" y="802">Citrate</text><text x="126" y="817">Aconitate</text><text x="126" y="833">Succinate</text><text x="126" y="848">Fumarate</text><text x="126" y="863">Malate</text><text x="126" y="879">Aspartic acid</text><text x="126" y="893">Glutamine</text><text x="126" y="909">Glutamate</text><text x="126" y="924">Proline</text></g>
<g stroke="#000" stroke-width="1.3"><line x1="128" y1="800" x2="133" y2="800"/><line x1="128" y1="815" x2="133" y2="815"/><line x1="128" y1="830" x2="133" y2="830"/><line x1="128" y1="846" x2="133" y2="846"/><line x1="128" y1="861" x2="133" y2="861"/><line x1="128" y1="876" x2="133" y2="876"/><line x1="128" y1="891" x2="133" y2="891"/><line x1="128" y1="906" x2="133" y2="906"/><line x1="128" y1="922" x2="133" y2="922"/></g>
<rect x="308" y="799" width="5" height="66" fill="url(#cb)"/><text x="307" y="796" font-size="4.5">Relative flux</text><text x="316" y="826" font-size="4.5">0.0</text><text x="316" y="865" font-size="4.5">−1.6</text>

<line x1="162" y1="938" x2="162" y2="973" stroke="#000"/>
<text x="142" y="958" font-size="7" class="b">LPS</text>
<rect x="164" y="939" width="10" height="10" fill="#f4a8a8"/><text x="177" y="947" font-size="7" class="b"><tspan font-style="italic">Mettl1fl/fl</tspan>+OE-Vector</text>
<rect x="164" y="951" width="10" height="10" fill="#3fbfee"/><text x="177" y="959" font-size="7" class="b"><tspan font-style="italic">Lyz2creMettl1fl/fl</tspan> +OE-Vector</text>
<rect x="164" y="963" width="10" height="10" fill="#f5a54d"/><text x="177" y="971" font-size="7" class="b"><tspan font-style="italic">Lyz2creMettl1fl/fl</tspan> +OE-SARM1</text>
</svg>
</body></html>
